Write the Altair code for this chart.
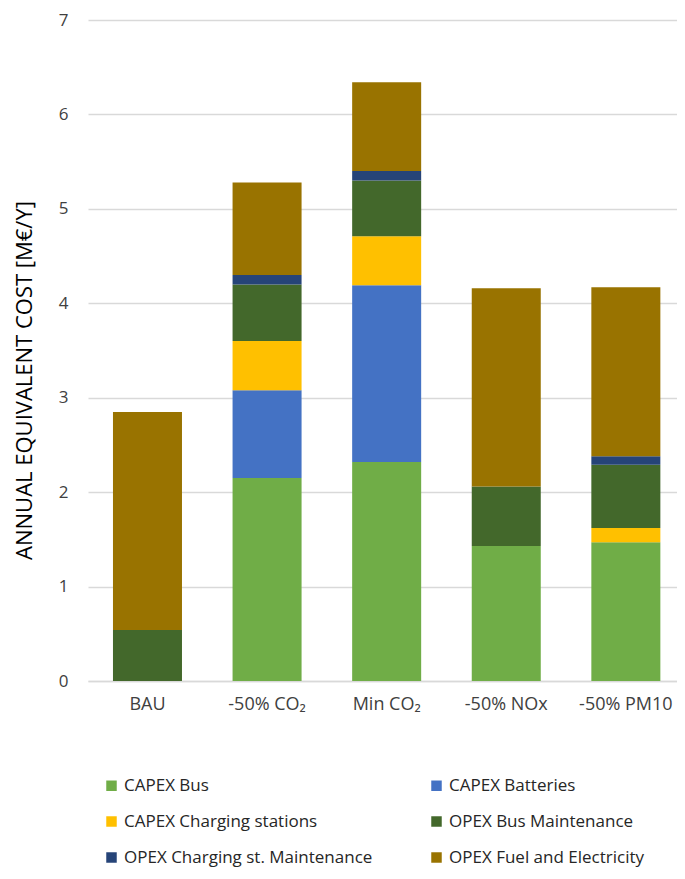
import altair as alt
import pandas as pd

scenarios = ["BAU", "-50% CO₂", "Min CO₂", "-50% NOx", "-50% PM10"]
series = ["CAPEX Bus", "CAPEX Batteries", "CAPEX Charging stations",
          "OPEX Bus Maintenance", "OPEX Charging st. Maintenance",
          "OPEX Fuel and Electricity"]
colors = ["#70AD47", "#4472C4", "#FFC000", "#43682B", "#264478", "#997300"]

capex_bus = [0.0, 2.15, 2.32, 1.43, 1.47]
capex_batteries = [0.0, 0.93, 1.87, 0.0, 0.0]
capex_charging = [0.0, 0.52, 0.52, 0.0, 0.15]
opex_bus_maint = [0.54, 0.60, 0.59, 0.63, 0.67]
opex_charging_maint = [0.0, 0.10, 0.10, 0.0, 0.09]
opex_fuel = [2.31, 0.98, 0.94, 2.10, 1.79]

values = [capex_bus, capex_batteries, capex_charging,
          opex_bus_maint, opex_charging_maint, opex_fuel]

rows = []
for si, (s, vals) in enumerate(zip(series, values)):
    for sc, v in zip(scenarios, vals):
        rows.append({"scenario": sc, "series": s, "order": si, "value": v})
df = pd.DataFrame(rows)

# legend fills column by column: reorder so it reads row by row
legend_order = [series[0], series[2], series[4], series[1], series[3], series[5]]
legend_colors = [colors[series.index(s)] for s in legend_order]

FONT = "Open Sans"

chart = alt.Chart(df).mark_bar().encode(
    x=alt.X("scenario:N", sort=scenarios, title=None,
            scale=alt.Scale(paddingInner=0.423, paddingOuter=0.174, align=0.6),
            axis=alt.Axis(labelAngle=0, labelFont=FONT, labelFontSize=18,
                          labelColor="#404040", labelPadding=14, ticks=False,
                          domainColor="#D9D9D9", domainWidth=1.3)),
    y=alt.Y("value:Q", stack="zero",
            scale=alt.Scale(domain=[0, 7], nice=False),
            title="ANNUAL EQUIVALENT COST [M€/Y]",
            axis=alt.Axis(values=[0, 1, 2, 3, 4, 5, 6, 7], format="d",
                          labelFont=FONT, labelFontSize=17, labelColor="#404040",
                          labelPadding=20, ticks=False, domain=False,
                          gridColor="#D9D9D9", gridWidth=1.3,
                          titleFont=FONT, titleFontSize=22, titleFontWeight="normal",
                          titleColor="#000000", titleX=-64, titleY=360,
                          titleAngle=-90, titleAlign="center",
                          titleBaseline="middle")),
    color=alt.Color("series:N",
                    scale=alt.Scale(domain=legend_order, range=legend_colors),
                    legend=alt.Legend(title=None, orient="none", legendX=15,
                                      legendY=757, columns=2, columnPadding=55,
                                      rowPadding=18, symbolType="square",
                                      symbolSize=110, symbolStrokeWidth=0,
                                      labelFont=FONT, labelFontSize=17,
                                      labelColor="#262626", labelOffset=4,
                                      labelLimit=400)),
    order=alt.Order("order:Q", sort="ascending"),
).properties(
    width=589, height=661,
    autosize=alt.AutoSizeParams(type="none"),
    padding={"left": 80, "top": 12, "right": 0, "bottom": 190},
).configure_view(stroke=None)

chart.save("out.html", embed_options={"renderer": "svg", "actions": False})
